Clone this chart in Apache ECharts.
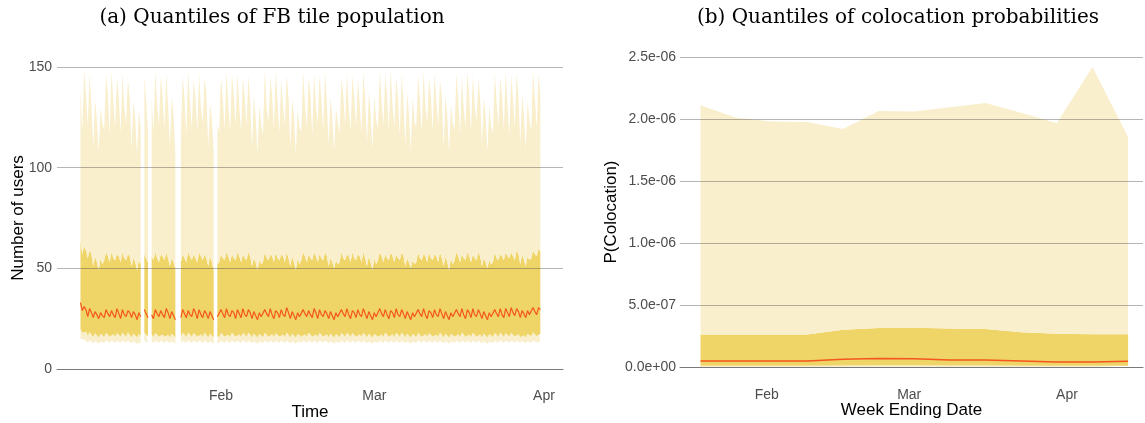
<!DOCTYPE html>
<html>
<head>
<meta charset="utf-8">
<script src="https://cdn.jsdelivr.net/npm/echarts@6/dist/echarts.min.js"></script>
<style>
  html, body { margin: 0; padding: 0; background: #ffffff; }
  #chart { width: 1145px; height: 423px; }
</style>
</head>
<body>
<div id="chart"></div>
<script>
// ---------- Panel (a): 8-hourly quantiles of users per FB tile ----------
// first sample 2021-01-06 08:00 UTC, one sample every 8 hours, 253 samples
const popStartUTC = Date.UTC(2021, 0, 6, 8);
const popStepHours = 8;

const popQ95 = [140,
  118,149,136, 121,147,131, 110,134,124, 108,130,122, 119,146,137, 116,148,133, 120,145,135,
  117,147,130, 122,144,134, 109,133,125, 106,129,120, null,146,133, 118,null,135, 117,148,132,
  121,145,136, 119,147,131, 111,135,126, 107,null,null, 115,146,134, 116,148,133, 120,144,135,
  118,147,130, 122,145,137, 110,132,124, 108,null,121, 118,145,134, 119,148,132, 117,146,136,
  121,147,131, 118,145,135, 120,146,133, 109,136,125, 107,131,122, 116,149,130, 122,145,136,
  119,148,133, 117,144,131, 121,146,135, 110,134,126, 106,129,120, 118,148,132, 120,145,137,
  116,147,131, 122,146,134, 119,148,133, 111,135,125, 108,130,123, 117,145,136, 121,147,130,
  118,146,135, 120,144,132, 117,148,134, 112,138,127, 109,136,124, 119,148,133, 121,146,136,
  118,149,131, 120,145,134, 116,147,132, 111,137,127, 108,135,123, 120,146,134, 117,148,131,
  122,145,136, 118,147,133, 121,144,135, 110,136,126, 107,132,122, 119,147,134, 116,145,130,
  120,148,136, 118,146,132, 122,144,135, 111,135,125, 108,131,121, 117,147,133, 121,145,136,
  119,148,131, 116,146,134, 120,147,135, 112,137,126, 109,133,124, 118,148,135,
  120,147,136];

const popQ75 = [64,
  57,61,59, 55,59,57, 51,56,53, 49,55,52, 54,58,56, 53,58,55, 54,57,56,
  53,58,55, 54,57,56, 51,55,53, 49,54,52, null,57,55, 53,null,56, 54,58,55,
  53,57,56, 54,58,55, 51,55,53, 50,null,null, 53,57,55, 53,58,56, 54,57,55,
  53,58,56, 54,57,55, 51,56,53, 49,null,52, 53,57,55, 54,58,56, 53,57,55,
  54,58,56, 53,57,55, 54,58,56, 51,55,53, 49,54,52, 53,58,55, 54,57,56,
  53,58,55, 54,57,56, 53,58,55, 51,56,53, 49,55,52, 54,58,56, 53,57,55,
  54,58,56, 53,57,55, 54,58,56, 51,55,53, 50,54,52, 53,58,55, 54,57,56,
  53,58,55, 54,57,56, 53,58,55, 51,56,53, 49,55,52, 54,58,56, 53,57,55,
  54,58,56, 53,57,55, 54,58,56, 51,55,53, 50,54,52, 53,58,55, 54,57,56,
  53,58,55, 54,57,56, 53,58,55, 51,56,53, 49,55,52, 54,58,56, 53,57,55,
  54,58,56, 53,57,55, 54,58,56, 51,55,53, 50,54,52, 53,58,55, 54,57,56,
  54,58,56, 55,58,56, 54,59,57, 52,57,54, 51,56,54, 55,59,57,
  56,60,58];

const popQ50 = [33,
  29,31,29.5, 26,30,28, 25.5,28.5,27, 25,28,26.5, 25.5,29.5,27.5, 26,29,27, 25.5,30,27.5,
  25,29.5,27, 26,29,28, 25.5,28.5,27, 24.5,28,26, null,29.5,27.5, 25.5,null,27, 25,29.5,27.5,
  26,29,27, 25.5,30,28, 25,28.5,26.5, 24.5,null,null, 25.5,29.5,27.5, 25.5,29,27, 26,30,28,
  25,29.5,27, 25.5,29,27.5, 25,28.5,26.5, 24.5,null,26, 25.5,29.5,27.5, 25.5,30,27, 26,29,28,
  25,29.5,27.5, 25.5,30,27, 26,29.5,28, 25,28.5,26.5, 24.5,28,26, 25.5,29.5,27.5, 26,30,27,
  25,29,28, 25.5,29.5,27, 26,30.5,28, 25,28.5,26.5, 24.5,28,26, 25.5,29.5,27.5, 26,29,27,
  25.5,30,28, 25,29.5,27, 26,29,27.5, 25,28.5,26.5, 24.5,28,26, 25.5,29.5,27.5, 26,30,27,
  25,29,28, 25.5,29.5,27, 26,30,27.5, 25,28.5,26.5, 24.5,28,26, 25.5,30,27.5, 26,29.5,27,
  25,29,28, 25.5,30,27, 26,29.5,27.5, 25,28.5,26.5, 24.5,28,26, 25.5,29.5,27.5, 26,30,27,
  25,29,28, 25.5,29.5,27, 26,30,27.5, 25,28.5,26.5, 24.5,28,26, 25.5,29.5,27.5, 26,30,27,
  25,29.5,28, 25.5,30,27, 26,29.5,27.5, 25,28.5,26.5, 24.5,28,26, 25.5,29.5,27.5, 26,30,27,
  25.5,30,28, 26,30.5,28, 26.5,30,28.5, 25.5,29,27.5, 25.5,29,27, 26.5,30.5,28.5,
  27,30.5,29.5];

const popQ25 = [20,
  18,19,18.5, 16.5,18.5,17, 16,17.8,16.8, 15.6,17.5,16.5, 16,18,17, 16.2,18.1,17.2, 16,17.9,17,
  16.1,18,17.1, 16.2,18.2,17, 15.8,17.6,16.6, 15.6,17.4,16.4, null,18,17, 16.1,null,17.1, 16,18,17,
  16.2,18.1,17.2, 16,17.9,17, 15.8,17.6,16.6, 15.6,null,null, 16,18,17, 16.1,18.1,17.1, 16,17.9,17,
  16.2,18,17.2, 16,18.1,17, 15.8,17.6,16.6, 15.6,null,16.4, 16,18,17, 16.1,18,17.1, 16,18.1,17,
  16.2,17.9,17.2, 16,18,17, 16.1,18.1,17.1, 15.8,17.6,16.6, 15.6,17.4,16.4, 16,18,17, 16.2,18.1,17.2,
  16,17.9,17, 16.1,18,17.1, 16,18.1,17, 15.8,17.6,16.6, 15.6,17.4,16.4, 16.2,18,17.2, 16,18.1,17,
  16.1,17.9,17.1, 16,18,17, 16.2,18.1,17.2, 15.8,17.6,16.6, 15.6,17.4,16.4, 16,18,17, 16.1,18.1,17.1,
  16,17.9,17, 16.2,18,17.2, 16,18.1,17, 15.8,17.6,16.6, 15.6,17.4,16.4, 16.1,18,17.1, 16,18.1,17,
  16.2,17.9,17.2, 16,18,17, 16.1,18.1,17.1, 15.8,17.6,16.6, 15.6,17.4,16.4, 16,18,17, 16.2,18.1,17.2,
  16,17.9,17, 16.1,18,17.1, 16,18.1,17, 15.8,17.6,16.6, 15.6,17.4,16.4, 16.2,18,17.2, 16,18.1,17,
  16.1,17.9,17.1, 16,18,17, 16.2,18.1,17.2, 15.8,17.6,16.6, 15.6,17.4,16.4, 16,18,17, 16.1,18.1,17.1,
  16,17.9,17, 16.2,18,17.2, 16.3,18.2,17.3, 15.9,17.7,16.8, 15.8,17.5,16.6, 16.3,18.3,17.3,
  16.4,18.3,17.5];

const popQ05 = [15,
  13.8,14.6,14.1, 13.2,14.2,13.6, 12.8,13.8,13.3, 12.6,13.6,13.1, 12.9,14,13.4, 13,14.1,13.5, 12.9,14,13.4,
  13,14.1,13.5, 13.1,14.2,13.5, 12.8,13.8,13.2, 12.6,13.6,13, null,14,13.4, 13,null,13.5, 12.9,14,13.4,
  13,14.1,13.5, 12.9,14,13.4, 12.8,13.8,13.2, 12.6,null,null, 12.9,14,13.4, 13,14.1,13.5, 12.9,14,13.4,
  13.1,14.1,13.5, 12.9,14.2,13.4, 12.8,13.8,13.2, 12.6,null,13, 12.9,14,13.4, 13,14,13.5, 12.9,14.1,13.4,
  13,14,13.5, 12.9,14.1,13.4, 13,14,13.5, 12.8,13.8,13.2, 12.6,13.6,13, 12.9,14,13.4, 13,14.1,13.5,
  12.9,14,13.4, 13,14.1,13.5, 12.9,14,13.4, 12.8,13.8,13.2, 12.6,13.6,13, 13,14,13.5, 12.9,14.1,13.4,
  13,14,13.5, 12.9,14.1,13.4, 13,14,13.5, 12.8,13.8,13.2, 12.6,13.6,13, 12.9,14,13.4, 13,14.1,13.5,
  12.9,14,13.4, 13,14.1,13.5, 12.9,14,13.4, 12.8,13.8,13.2, 12.6,13.6,13, 13,14,13.5, 12.9,14.1,13.4,
  13,14,13.5, 12.9,14.1,13.4, 13,14,13.5, 12.8,13.8,13.2, 12.6,13.6,13, 12.9,14,13.4, 13,14.1,13.5,
  12.9,14,13.4, 13,14.1,13.5, 12.9,14,13.4, 12.8,13.8,13.2, 12.6,13.6,13, 13,14,13.5, 12.9,14.1,13.4,
  13,14,13.5, 12.9,14.1,13.4, 13,14,13.5, 12.8,13.8,13.2, 12.6,13.6,13, 12.9,14,13.4, 13,14.1,13.5,
  12.9,14,13.4, 13,14.1,13.5, 13.1,14.2,13.6, 12.9,13.9,13.3, 12.8,13.8,13.2, 13.1,14.2,13.6,
  13.2,14.2,13.7];

// ---------- Panel (b): weekly quantiles of colocation probability ----------
const weekEnding = ['2021-01-19','2021-01-26','2021-02-02','2021-02-09','2021-02-16','2021-02-23','2021-03-02',
                    '2021-03-09','2021-03-16','2021-03-23','2021-03-30','2021-04-06','2021-04-13'];
const colQ95 = [2.11e-6, 2.01e-6, 1.98e-6, 1.975e-6, 1.92e-6, 2.065e-6, 2.06e-6, 2.095e-6, 2.13e-6, 2.05e-6, 1.965e-6, 2.42e-6, 1.855e-6];
const colQ75 = [2.63e-7, 2.63e-7, 2.63e-7, 2.63e-7, 3.0e-7, 3.15e-7, 3.16e-7, 3.1e-7, 3.06e-7, 2.8e-7, 2.68e-7, 2.65e-7, 2.65e-7];
const colQ50 = [4.8e-8, 4.8e-8, 4.8e-8, 4.8e-8, 6.2e-8, 6.8e-8, 6.6e-8, 5.6e-8, 5.6e-8, 4.8e-8, 4.0e-8, 4.0e-8, 4.6e-8];
const colQ25 = [1.1e-8, 1.1e-8, 1.1e-8, 1.1e-8, 1.3e-8, 1.4e-8, 1.4e-8, 1.2e-8, 1.2e-8, 1.1e-8, 1.0e-8, 1.0e-8, 1.0e-8];
const colQ05 = [1e-9, 1e-9, 1e-9, 1e-9, 1e-9, 1e-9, 1e-9, 1e-9, 1e-9, 1e-9, 1e-9, 1e-9, 1e-9];

// month tick labels shared by both date axes
const monthTickDates = ['2021-02-01', '2021-03-01', '2021-04-01'];
const monthTickLabels = ['Feb', 'Mar', 'Apr'];

// ---------- helpers ----------
const utc = s => { const [y, m, d] = s.split('-').map(Number); return Date.UTC(y, m - 1, d); };
const HOUR = 3600 * 1000, DAY = 24 * HOUR;
const monthTicks = monthTickDates.map(utc);
const monthLabel = v => {
  const k = monthTicks.findIndex(t => Math.abs(t - v) < HOUR);
  return k >= 0 ? monthTickLabels[k] : '';
};

const popTimes = popQ50.map((_, i) => popStartUTC + i * popStepHours * HOUR);
const weekTimes = weekEnding.map(utc);

const pair = (times, vals) => vals.map((v, i) => [times[i], v == null ? '-' : v]);
const diff = (times, hi, lo) => hi.map((v, i) =>
  [times[i], (v == null || lo[i] == null) ? '-' : v - lo[i]]);

// R-style scientific labels, e.g. 2.5e-06, 0.0e+00
function sci(v) {
  const [m, e] = Number(v).toExponential(1).split('e');
  const n = parseInt(e, 10);
  return m + 'e' + (n < 0 ? '-' : '+') + String(Math.abs(n)).padStart(2, '0');
}

const LIGHT = '#F9EFCD';
const DARK = '#EFD467';
const MEDIAN = '#F4561D';
const GRID_LINE = 'rgba(70,70,70,0.40)';
const SANS = 'Liberation Sans';
const SERIF = 'DejaVu Serif';

// Stacked bands: invisible base at the lowest quantile, then the three band thicknesses.
function bandSeries(axisIdx, times, q05, q25, q50, q75, q95, stackName, medianWidth) {
  const layer = (data, color) => ({
    type: 'line', xAxisIndex: axisIdx, yAxisIndex: axisIdx, stack: stackName, data: data,
    showSymbol: false, symbol: 'none', connectNulls: false, silent: true,
    lineStyle: { width: 0, color: color || LIGHT },
    areaStyle: color ? { color: color, opacity: 1 } : undefined
  });
  return [
    layer(pair(times, q05), null),
    layer(diff(times, q25, q05), LIGHT),
    layer(diff(times, q75, q25), DARK),
    layer(diff(times, q95, q75), LIGHT),
    { type: 'line', xAxisIndex: axisIdx, yAxisIndex: axisIdx, data: pair(times, q50),
      showSymbol: false, symbol: 'none', connectNulls: false, silent: true, z: 3,
      lineStyle: { color: MEDIAN, width: medianWidth } }
  ];
}

const xAxisCommon = {
  type: 'time',
  splitNumber: 3,
  minInterval: 28 * DAY,
  splitLine: { show: false },
  axisTick: { show: false },
  axisLine: { show: true, onZero: false, lineStyle: { color: '#7a7a7a', width: 1 } },
  nameLocation: 'middle',
  nameMoveOverlap: false,
  nameTextStyle: { fontFamily: SANS, fontSize: 17, color: '#000000' },
  z: 6
};

const yAxisCommon = {
  type: 'value',
  axisLine: { show: false },
  axisTick: { show: false },
  splitLine: { show: true, lineStyle: { color: GRID_LINE, width: 1 } },
  nameLocation: 'middle',
  nameMoveOverlap: false,
  nameTextStyle: { fontFamily: SANS, fontSize: 17, color: '#000000' },
  z: 5
};

const chart = echarts.init(document.getElementById('chart'), null, { renderer: 'canvas' });

chart.setOption({
  animation: false,
  useUTC: true,
  backgroundColor: '#ffffff',
  graphic: [
    { type: 'text', x: 272, y: 18,
      style: { text: '(a) Quantiles of FB tile population', fontFamily: SERIF, fontSize: 20,
               fill: '#000000', textAlign: 'center', textVerticalAlign: 'middle' } },
    { type: 'text', x: 898, y: 18,
      style: { text: '(b) Quantiles of colocation probabilities', fontFamily: SERIF, fontSize: 20,
               fill: '#000000', textAlign: 'center', textVerticalAlign: 'middle' } }
  ],
  grid: [
    { left: 57, top: 67, width: 506, height: 302, containLabel: false, outerBoundsMode: 'none' },
    { left: 680, top: 57, width: 463, height: 310, containLabel: false, outerBoundsMode: 'none' }
  ],
  xAxis: [
    Object.assign({}, xAxisCommon, {
      gridIndex: 0,
      min: Date.UTC(2021, 0, 2, 1, 6), max: Date.UTC(2021, 3, 4, 11, 17),
      name: 'Time', nameGap: 35,
      axisLabel: { formatter: monthLabel, margin: 20, showMinLabel: false, showMaxLabel: false,
                   fontFamily: SANS, fontSize: 14, color: '#4D4D4D', hideOverlap: false }
    }),
    Object.assign({}, xAxisCommon, {
      gridIndex: 1,
      min: Date.UTC(2021, 0, 14, 23, 16), max: Date.UTC(2021, 3, 15, 22, 19),
      name: 'Week Ending Date', nameGap: 35,
      axisLabel: { formatter: monthLabel, margin: 21, showMinLabel: false, showMaxLabel: false,
                   fontFamily: SANS, fontSize: 14, color: '#4D4D4D', hideOverlap: false }
    })
  ],
  yAxis: [
    Object.assign({}, yAxisCommon, {
      gridIndex: 0, min: 0, max: 150, interval: 50,
      name: 'Number of users', nameGap: 30,
      axisLabel: { margin: 5, fontFamily: SANS, fontSize: 14, color: '#4D4D4D' }
    }),
    Object.assign({}, yAxisCommon, {
      gridIndex: 1, min: 0, max: 2.5e-6, interval: 5e-7,
      name: 'P(Colocation)', nameGap: 60,
      axisLabel: { margin: 4, fontFamily: SANS, fontSize: 14, color: '#4D4D4D', formatter: sci }
    })
  ],
  series: [
    ...bandSeries(0, popTimes, popQ05, popQ25, popQ50, popQ75, popQ95, 'pop', 1.2),
    ...bandSeries(1, weekTimes, colQ05, colQ25, colQ50, colQ75, colQ95, 'col', 1.5)
  ]
});
</script>
</body>
</html>
